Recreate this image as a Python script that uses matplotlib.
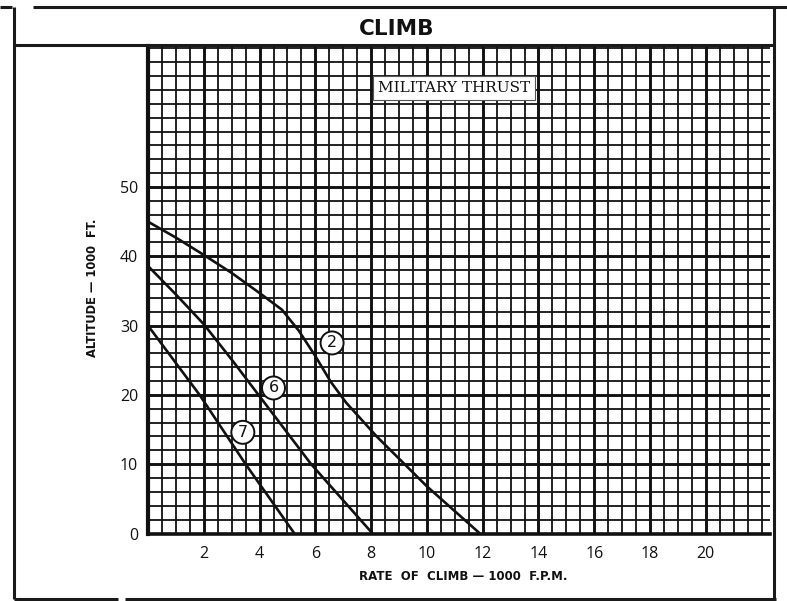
import matplotlib
matplotlib.use("Agg")
import matplotlib.pyplot as plt
import numpy as np

# ---------------- data ----------------
curve2_rate = [0.0, 1.0, 2.0, 3.0, 4.0, 4.8, 5.4, 6.0, 6.55, 7.1, 8.2, 10.0, 11.9]
curve2_alt = [45.0, 42.7, 40.2, 37.6, 34.7, 32.3, 29.3, 25.6, 21.9, 18.9, 14.0, 6.8, 0.0]
curve6_rate = [0.0, 1.0, 2.0, 3.0, 4.0, 5.85, 8.05]
curve6_alt = [38.6, 34.5, 30.2, 25.1, 19.8, 10.0, 0.0]
curve7_rate = [0.0, 1.85, 3.5, 5.25]
curve7_alt = [30.0, 20.0, 10.0, 0.0]
curve_labels = ["2", "6", "7"]
label_rate = [6.6, 4.5, 3.4]
label_alt = [27.5, 21.0, 14.6]
x_ticks = [0, 2, 4, 6, 8, 10, 12, 14, 16, 18, 20]
x_tick_labels = ["", "2", "4", "6", "8", "10", "12", "14", "16", "18", "20"]
y_ticks = [0, 10, 20, 30, 40, 50]
y_tick_labels = ["0", "10", "20", "30", "40", "50"]
title = "CLIMB"
x_label = "RATE  OF  CLIMB \u2014 1000  F.P.M."
y_label = "ALTITUDE \u2014 1000  FT."
note = "MILITARY THRUST"

W, H = 787, 601
fig = plt.figure(figsize=(W / 100, H / 100), dpi=100)
fig.patch.set_facecolor("white")

ax_l, ax_r, ax_b, ax_t = 148, 770, 533.5, 46
ax = fig.add_axes([ax_l / W, (H - ax_b) / H, (ax_r - ax_l) / W, (ax_b - ax_t) / H])
ax.set_xlim(0, 22.3)
ax.set_ylim(0, 70.35)

ax.set_xticks(x_ticks)
ax.set_xticklabels(x_tick_labels)
ax.set_xticks(np.arange(0, 22.3, 0.5), minor=True)
ax.set_yticks(y_ticks)
ax.set_yticklabels(y_tick_labels)
ax.set_yticks(np.arange(0, 70.5, 2), minor=True)
ax.tick_params(which="both", length=0)
ax.tick_params(axis="x", pad=9)
ax.tick_params(axis="y", pad=7)
for lab in ax.get_xticklabels() + ax.get_yticklabels():
    lab.set_fontfamily("Open Sans")
    lab.set_fontsize(11.5)
    lab.set_color("#111111")

ax.grid(which="major", color="#111111", lw=2.1, zorder=1)
ax.grid(which="minor", color="#111111", lw=1.3, zorder=1)
ax.set_axisbelow(True)
for s in ["top", "right"]:
    ax.spines[s].set_visible(False)
ax.spines["left"].set_linewidth(3.0)
ax.spines["bottom"].set_linewidth(2.6)
ax.spines["left"].set_color("#111111")
ax.spines["bottom"].set_color("#111111")

for r, a in [(curve2_rate, curve2_alt), (curve6_rate, curve6_alt), (curve7_rate, curve7_alt)]:
    ax.plot(r, a, color="#111111", lw=1.9, zorder=3, solid_capstyle="butt",
            solid_joinstyle="round")

for t, xr, ya in zip(curve_labels, label_rate, label_alt):
    ax.text(xr, ya, t, fontsize=11.5, family="DejaVu Sans", ha="center", va="center", zorder=5,
            color="#111111",
            bbox=dict(boxstyle="circle,pad=0.25", fc="white", ec="#111111", lw=1.4))

ax.text(10.97, 64.3, note, fontsize=11, family="DejaVu Serif", ha="center", va="center",
        zorder=5, color="#111111",
        bbox=dict(boxstyle="square,pad=0.3", fc="white", ec="#555555", lw=0.8))

# ---------------- frame overlay (pixel coordinates) ----------------
ov = fig.add_axes([0, 0, 1, 1], zorder=10)
ov.set_xlim(0, W)
ov.set_ylim(H, 0)
ov.axis("off")
ov.patch.set_alpha(0)
fl = dict(color="#1a1a1a", lw=2.2, solid_capstyle="butt")
ov.plot([0, 12], [7, 7], **fl)
ov.plot([33, W], [7, 7], **fl)
ov.plot([14, 14], [7, 599], **fl)
ov.plot([774, 774], [7, 599], **fl)
ov.plot([14, 774], [45, 45], **fl)
ov.plot([14, 118], [599, 599], **fl)
ov.plot([125, 776], [599, 599], **fl)

ov.text(397, 29, title, fontsize=15.5, fontweight="bold", family="DejaVu Sans",
        ha="center", va="center", color="#111111")
ov.text(92, 288, y_label, fontsize=8.3, fontweight="bold", family="DejaVu Sans",
        rotation=90, ha="center", va="center", color="#111111")
ov.text(463, 576, x_label, fontsize=8.5, fontweight="bold", family="DejaVu Sans",
        ha="center", va="center", color="#111111")

fig.savefig("out.png", dpi=100, facecolor="white")
